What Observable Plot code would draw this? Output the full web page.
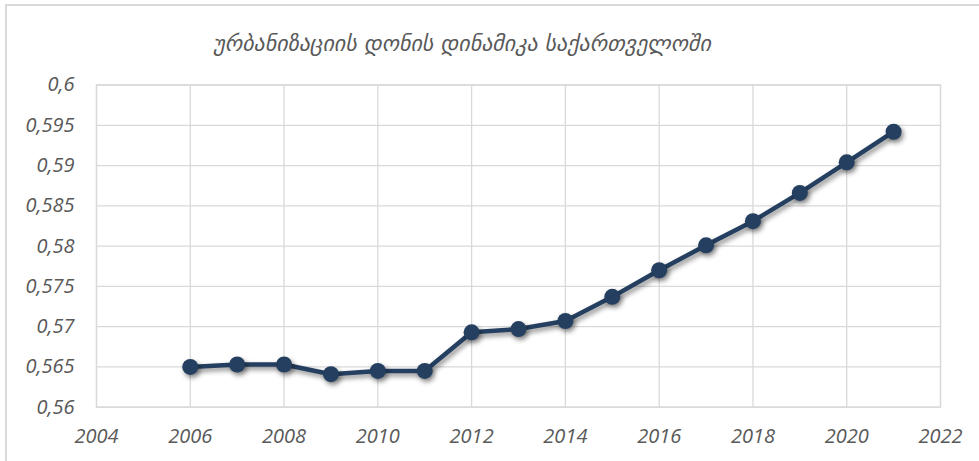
<!DOCTYPE html>
<html>
<head>
<meta charset="utf-8">
<script src="https://cdn.jsdelivr.net/npm/d3@7"></script>
<script src="https://cdn.jsdelivr.net/npm/@observablehq/plot@0.6"></script>
<style>
  html, body { margin: 0; padding: 0; background: #fff; overflow: hidden; }
  #wrap { position: relative; width: 979px; height: 461px; overflow: hidden; }
  #border { position: absolute; left: 5px; top: 4px; width: 1200px; height: 1200px;
            border-left: 2px solid #d9d9d9; border-top: 2px solid #d9d9d9; box-sizing: border-box; }
  #title { position: absolute; left: 0; top: 0; width: 924px; height: 62px; line-height: 88px;
           text-align: center; font-family: "DejaVu Sans", sans-serif; font-style: italic;
           font-size: 22px; color: #595959; }
  #chart { position: absolute; left: 0; top: 62px; }
  .shadow { filter: drop-shadow(2px 3px 2.5px rgba(0,0,0,0.45)); }
</style>
</head>
<body>
<div id="wrap">
  <div id="border"></div>
  <div id="title">ურბანიზაციის დონის დინამიკა საქართველოში</div>
  <div id="chart"></div>
</div>
<script>
const years = [2006, 2007, 2008, 2009, 2010, 2011, 2012, 2013, 2014, 2015, 2016, 2017, 2018, 2019, 2020, 2021];
const urbanization = [0.5650, 0.5653, 0.5653, 0.5641, 0.5645, 0.5645, 0.5693, 0.5697, 0.5707, 0.5737, 0.5770, 0.5801, 0.5831, 0.5866, 0.5904, 0.5942];
const xTicks = [2004, 2006, 2008, 2010, 2012, 2014, 2016, 2018, 2020, 2022];
const yTicks = [0.56, 0.565, 0.57, 0.575, 0.58, 0.585, 0.59, 0.595, 0.6];

const data = years.map((y, i) => ({year: y, value: urbanization[i]}));
const fmtY = d => d3.format(".3~f")(d).replace(".", ",");
const lineColor = "#243f60";
const gridColor = "#d9d9d9";

const chart = Plot.plot({
  width: 979,
  height: 399,
  marginLeft: 96,
  marginRight: 39,
  marginTop: 22.5,
  marginBottom: 54.3,
  style: { fontFamily: "'Open Sans', sans-serif", fontStyle: "italic", fontSize: "20px", color: "#595959", background: "transparent" },
  x: { domain: [2004, 2022], ticks: xTicks, tickFormat: d => String(d), tickSize: 0, tickPadding: 22, label: null },
  y: { domain: [0.56, 0.6], ticks: yTicks, tickFormat: fmtY, tickSize: 0, tickPadding: 22, label: null },
  marks: [
    Plot.gridX(xTicks, { stroke: gridColor, strokeOpacity: 1, strokeWidth: 1.3 }),
    Plot.gridY(yTicks, { stroke: gridColor, strokeOpacity: 1, strokeWidth: 1.3 }),
    Plot.frame({ stroke: gridColor, strokeWidth: 1.3 }),
    Plot.axisX(xTicks, { tickFormat: d => String(d), tickSize: 0, tickPadding: 22, fill: "#595959", fontSize: 20 }),
    Plot.axisY(yTicks, { tickFormat: fmtY, tickSize: 0, tickPadding: 22, fill: "#595959", fontSize: 20 }),
    Plot.line(data, { x: "year", y: "value", stroke: lineColor, strokeWidth: 4.5, className: "shadow" }),
    Plot.dot(data, { x: "year", y: "value", r: 8, fill: lineColor, stroke: "none", className: "shadow" })
  ]
});
document.getElementById("chart").appendChild(chart);
</script>
</body>
</html>
